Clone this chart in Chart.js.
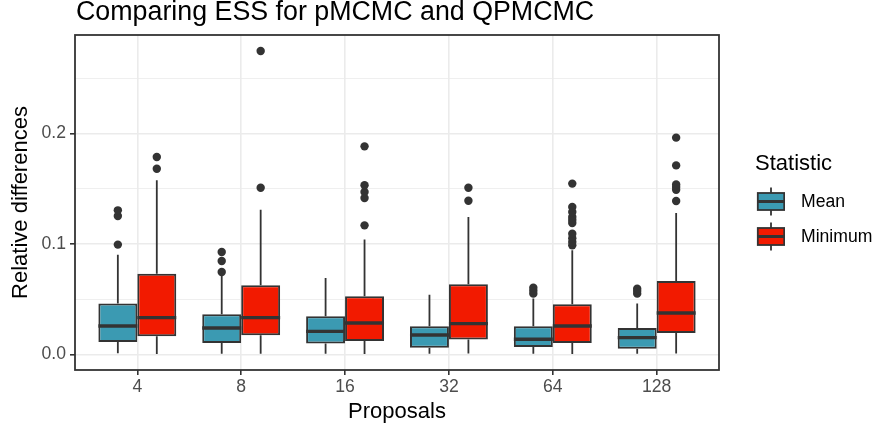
<!DOCTYPE html>
<html>
<head>
<meta charset="utf-8">
<script src="https://cdn.jsdelivr.net/npm/chart.js@4/dist/chart.umd.min.js"></script>
<style>
  html, body { margin: 0; padding: 0; background: #fff; }
  #wrap { position: relative; width: 879px; height: 429px; font-family: "Liberation Sans", Arial, sans-serif; }
  #chart { position: absolute; left: 0; top: 0; }
  #title { position: absolute; left: 76px; top: -2px; font-size: 26.8px; line-height: 26px; color: #000; white-space: nowrap; }
  #legend { position: absolute; left: 755px; top: 148px; color: #000; }
  #legend .ttl { font-size: 22px; line-height: 30px; margin-bottom: 6px; }
  #legend .row { display: flex; align-items: center; height: 35px; }
  #legend .row span { font-size: 17.6px; margin-left: 16px; }
</style>
</head>
<body>
<div id="wrap">
  <canvas id="chart" width="879" height="429"></canvas>
  <div id="title">Comparing ESS for pMCMC and QPMCMC</div>
  <div id="legend">
    <div class="ttl">Statistic</div>
    <div class="row"><svg width="30" height="35"><line x1="16" y1="3.5" x2="16" y2="31.5" stroke="#333" stroke-width="1.8"/><rect x="2.8" y="9" width="26.4" height="17" fill="#3B9AB2" stroke="#333" stroke-width="1.8"/><line x1="2.8" y1="17.5" x2="29.2" y2="17.5" stroke="#333" stroke-width="3"/></svg><span>Mean</span></div>
    <div class="row"><svg width="30" height="35"><line x1="16" y1="3.5" x2="16" y2="31.5" stroke="#333" stroke-width="1.8"/><rect x="2.8" y="9" width="26.4" height="17" fill="#F21A00" stroke="#333" stroke-width="1.8"/><line x1="2.8" y1="17.5" x2="29.2" y2="17.5" stroke="#333" stroke-width="3"/></svg><span>Minimum</span></div>
  </div>
</div>
<script>
/* ── data ── */
const PROPOSALS = ["4", "8", "16", "32", "64", "128"];

const MEAN_LOW    = [0.0010, 0.0005, 0.0005, 0.0005, 0.0005, 0.0005];
const MEAN_Q1     = [0.0111, 0.0102, 0.0097, 0.0060, 0.0066, 0.0051];
const MEAN_MEDIAN = [0.0256, 0.0238, 0.0208, 0.0175, 0.0136, 0.0151];
const MEAN_Q3     = [0.0459, 0.0362, 0.0344, 0.0253, 0.0253, 0.0238];
const MEAN_HIGH   = [0.0902, 0.0715, 0.0690, 0.0540, 0.0504, 0.0459];
const MEAN_OUTLIERS = [
  [0.0993, 0.1252, 0.1303],
  [0.0745, 0.0845, 0.0926],
  [],
  [],
  [0.0549, 0.0575, 0.0603],
  [0.0549, 0.0572, 0.0594],
];

const MIN_LOW    = [0.0002, 0.0005, 0.0002, 0.0008, 0.0003, 0.0008];
const MIN_Q1     = [0.0163, 0.0172, 0.0121, 0.0133, 0.0102, 0.0193];
const MIN_MEDIAN = [0.0332, 0.0332, 0.0284, 0.0278, 0.0256, 0.0374];
const MIN_Q3     = [0.0730, 0.0624, 0.0525, 0.0633, 0.0452, 0.0664];
const MIN_HIGH   = [0.1575, 0.1309, 0.1038, 0.1243, 0.0941, 0.1279];
const MIN_OUTLIERS = [
  [0.1680, 0.1786],
  [0.1508, 0.2745],
  [0.1167, 0.1415, 0.1469, 0.1530, 0.1882],
  [0.1390, 0.1508],
  [0.0986, 0.1016, 0.1050, 0.1092, 0.1188, 0.1215, 0.1243, 0.1288, 0.1333, 0.1545],
  [0.1387, 0.1490, 0.1515, 0.1538, 0.1710, 0.1961],
];

const Y_TICKS = [0, 0.05, 0.1, 0.15, 0.2, 0.25];
const Y_LABELS = { 0: "0.0", 0.1: "0.1", 0.2: "0.2" };

/* ── helpers ── */
const INK = "#333333";
const GRID = "#EBEBEB";

function boxData(q1, q3) {
  return PROPOSALS.map(function (p, i) { return { x: i, y: [q1[i], q3[i]] }; });
}

function isMajorY(v) { return Y_LABELS[v] !== undefined; }

/* whiskers, medians and outliers drawn on top of the bar boxes */
const boxExtras = {
  id: "boxExtras",
  afterDatasetsDraw: function (chart) {
    const ctx = chart.ctx;
    const y = chart.scales.y;
    chart.data.datasets.forEach(function (ds, d) {
      const meta = chart.getDatasetMeta(d);
      meta.data.forEach(function (bar, i) {
        const x = bar.x, half = bar.width / 2;
        ctx.save();
        ctx.strokeStyle = INK;
        ctx.lineWidth = 1.8;
        ctx.beginPath();
        ctx.moveTo(x, y.getPixelForValue(ds.low[i]));
        ctx.lineTo(x, y.getPixelForValue(ds.q1[i]));
        ctx.moveTo(x, y.getPixelForValue(ds.q3[i]));
        ctx.lineTo(x, y.getPixelForValue(ds.high[i]));
        ctx.stroke();
        ctx.lineWidth = 3.4;
        ctx.beginPath();
        const my = y.getPixelForValue(ds.median[i]);
        ctx.moveTo(x - half, my);
        ctx.lineTo(x + half, my);
        ctx.stroke();
        ctx.fillStyle = INK;
        ds.outliers[i].forEach(function (v) {
          ctx.beginPath();
          ctx.arc(x, y.getPixelForValue(v), 4.2, 0, Math.PI * 2);
          ctx.fill();
        });
        ctx.restore();
      });
    });
  },
  afterDraw: function (chart) {
    const a = chart.chartArea, ctx = chart.ctx;
    ctx.save();
    ctx.strokeStyle = INK;
    ctx.lineWidth = 1.8;
    ctx.strokeRect(a.left, a.top, a.right - a.left, a.bottom - a.top);
    ctx.restore();
  }
};

Chart.defaults.font.family = '"Liberation Sans", Arial, sans-serif';

new Chart(document.getElementById("chart"), {
  type: "bar",
  data: {
    datasets: [
      {
        label: "Mean",
        data: boxData(MEAN_Q1, MEAN_Q3),
        low: MEAN_LOW, q1: MEAN_Q1, median: MEAN_MEDIAN, q3: MEAN_Q3, high: MEAN_HIGH, outliers: MEAN_OUTLIERS,
        backgroundColor: "#3B9AB2",
        borderColor: INK,
        borderWidth: 2,
        borderSkipped: false,
      },
      {
        label: "Minimum",
        data: boxData(MIN_Q1, MIN_Q3),
        low: MIN_LOW, q1: MIN_Q1, median: MIN_MEDIAN, q3: MIN_Q3, high: MIN_HIGH, outliers: MIN_OUTLIERS,
        backgroundColor: "#F21A00",
        borderColor: INK,
        borderWidth: 2,
        borderSkipped: false,
      },
    ],
  },
  options: {
    responsive: false,
    animation: false,
    events: [],
    categoryPercentage: 0.75,
    barPercentage: 1,
    layout: { padding: { top: 35, right: 160, left: 0, bottom: 0 } },
    plugins: {
      legend: { display: false },
      tooltip: { enabled: false },
      title: { display: false },
    },
    scales: {
      x: {
        type: "linear",
        min: -0.6,
        max: 5.6,
        offset: false,
        afterBuildTicks: function (scale) {
          scale.ticks = PROPOSALS.map(function (p, i) { return { value: i }; });
        },
        afterFit: function (scale) { scale.height = 59; },
        grid: {
          offset: false,
          color: GRID,
          lineWidth: 1.6,
          tickLength: 5,
          tickColor: INK,
          tickWidth: 1.6,
        },
        border: { display: false },
        ticks: {
          padding: 2,
          color: "#4D4D4D",
          font: { size: 17.6 },
          maxRotation: 0,
          autoSkip: false,
          callback: function (v) { return PROPOSALS[v]; },
        },
        title: {
          display: true,
          text: "Proposals",
          color: "#000",
          font: { size: 22 },
          padding: { top: 0, bottom: 4 },
        },
      },
      y: {
        type: "linear",
        min: -0.0142,
        max: 0.289,
        afterBuildTicks: function (scale) {
          scale.ticks = Y_TICKS.map(function (v) { return { value: v }; });
        },
        afterFit: function (scale) { scale.width = 75; },
        grid: {
          color: GRID,
          lineWidth: function (c) { return isMajorY(c.tick.value) ? 1.6 : 0.8; },
          tickLength: 5,
          tickColor: function (c) { return isMajorY(c.tick.value) ? INK : "rgba(0,0,0,0)"; },
          tickWidth: 1.6,
        },
        border: { display: false },
        ticks: {
          padding: 4,
          color: "#4D4D4D",
          font: { size: 17.6 },
          autoSkip: false,
          callback: function (v) { return isMajorY(v) ? Y_LABELS[v] : ""; },
        },
        title: {
          display: true,
          text: "Relative differences",
          color: "#000",
          font: { size: 22 },
          padding: { top: 8, bottom: 0 },
        },
      },
    },
  },
  plugins: [boxExtras],
});
</script>
</body>
</html>
